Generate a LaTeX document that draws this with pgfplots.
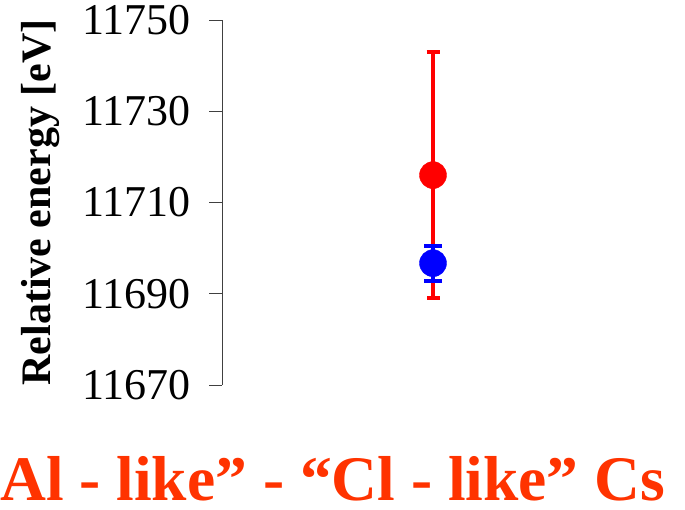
\documentclass[border=0pt]{standalone}
\usepackage{fontspec}
\setmainfont{Liberation Serif}
\usepackage{pgfplots}
\pgfplotsset{compat=1.18}
\definecolor{titlered}{RGB}{255,51,0}
\begin{document}
\begin{tikzpicture}
\useasboundingbox (0,0) rectangle (685bp,510bp);
\begin{axis}[
  at={(222bp,125bp)}, anchor=south west,
  scale only axis, width=422bp, height=365bp,
  xmin=0, xmax=1, ymin=11670, ymax=11750,
  axis x line=none, axis y line=left,
  axis line style={-, line width=0.8bp, black!75},
  ytick={11670,11690,11710,11730,11750},
  scaled y ticks=false,
  tick align=outside, major tick length=13bp,
  ytick style={line width=0.8bp, black!75},
  yticklabel style={font=\fontsize{44bp}{44bp}\selectfont, xshift=-15bp, /pgf/number format/1000 sep={}, /pgf/number format/fixed},
  /pgf/number format/assume math mode=true,
  clip=false,
]
\addplot+[only marks, mark=*, mark size=13.5bp, color=red, mark options={fill=red, draw=red},
  error bars/.cd, y dir=both, y explicit,
  error bar style={line width=4bp, red},
  error mark options={rotate=90, mark size=6.5bp, line width=4bp, red}]
  coordinates {(0.5,11716) +- (0,27)};
\addplot+[only marks, mark=*, mark size=13.5bp, color=blue, mark options={fill=blue, draw=blue},
  error bars/.cd, y dir=both, y explicit,
  error bar style={line width=4bp, blue},
  error mark options={rotate=90, mark size=9bp, line width=4bp, blue}]
  coordinates {(0.5,11696.7) +- (0,3.8)};
\end{axis}
\node[rotate=90, font=\fontsize{42bp}{42bp}\selectfont\bfseries, inner sep=0] at (41bp,307.5bp) {Relative energy [eV]};
\node[anchor=base west, inner sep=0, text=titlered, font=\fontsize{63.5bp}{63.5bp}\selectfont\bfseries] at (0,10bp) {Al - like” - “Cl - like” Cs};
\end{tikzpicture}
\end{document}
